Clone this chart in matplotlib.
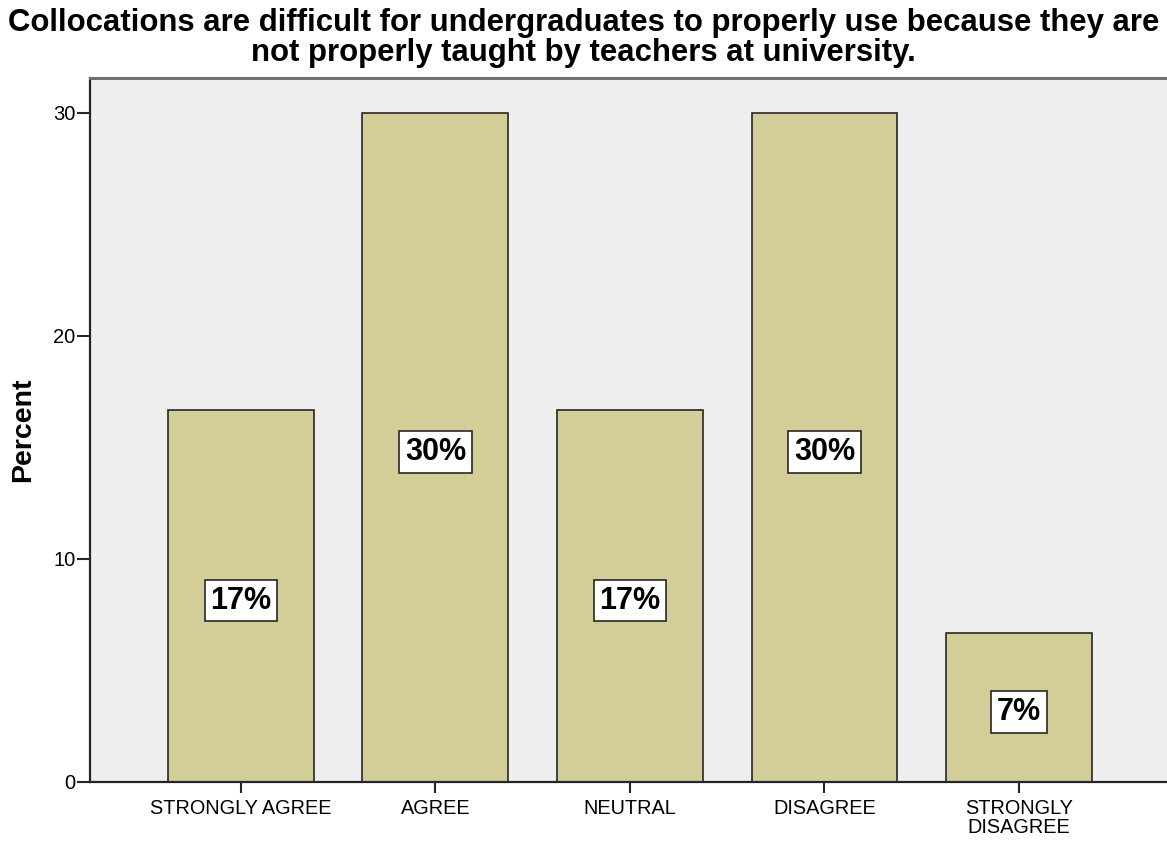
import matplotlib.pyplot as plt

categories = ["STRONGLY AGREE", "AGREE", "NEUTRAL", "DISAGREE", "STRONGLY\nDISAGREE"]
percent = [16.67, 30.0, 16.67, 30.0, 6.67]
bar_labels = ["17%", "30%", "17%", "30%", "7%"]
yticks = [0, 10, 20, 30]

plt.rcParams['font.family'] = ['Liberation Sans', 'DejaVu Sans']

fig = plt.figure(figsize=(11.67, 8.42), dpi=100)
ax = fig.add_axes([0.0771, 0.0713, 0.9254, 0.8361])
ax.set_facecolor('#EFEFEF')

x = range(len(categories))
bars = ax.bar(x, percent, width=0.75, color='#D3CE97', edgecolor='#262626', linewidth=1.2, zorder=2)

for xi, v, lab in zip(x, percent, bar_labels):
    ax.text(xi, v / 2 - 0.2, lab, ha='center', va='center', fontsize=22, fontweight='bold',
            zorder=3,
            bbox=dict(boxstyle='square,pad=0.19', facecolor='white', edgecolor='#262626', linewidth=1.2))

ax.set_xlim(-0.776, 4.776)
ax.set_ylim(0, 31.57)
ax.set_yticks(yticks)
ax.set_xticks(list(x))
ax.set_xticklabels(categories, fontsize=14.3, linespacing=1.0)
ax.tick_params(axis='y', labelsize=14.5, length=9.5, width=1.5, color='#262626', pad=1)
ax.tick_params(axis='x', length=8, width=1.5, color='#262626', pad=4)

ax.spines['left'].set_color('#262626')
ax.spines['left'].set_linewidth(1.6)
ax.spines['bottom'].set_color('#262626')
ax.spines['bottom'].set_linewidth(1.6)
ax.spines['top'].set_color('#707070')
ax.spines['top'].set_linewidth(2.2)
ax.spines['right'].set_visible(False)

ax.set_ylabel('Percent', fontsize=20.5, fontweight='bold', labelpad=12)
fig.suptitle('Collocations are difficult for undergraduates to properly use because they are\n'
             'not properly taught by teachers at university.',
             fontsize=22.4, fontweight='bold', y=0.99, linespacing=0.98)

fig.savefig('out.png', dpi=100)
